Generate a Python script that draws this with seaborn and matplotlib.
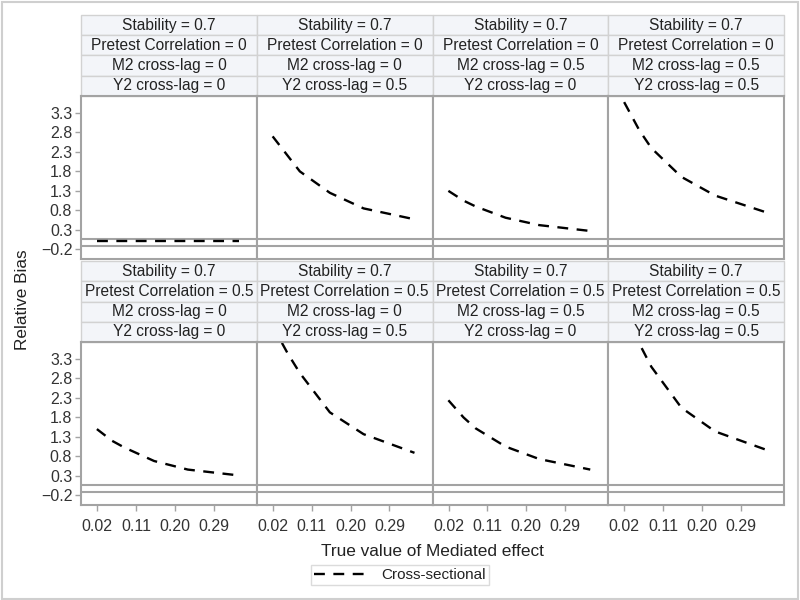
import numpy as np
import pandas as pd
import matplotlib
matplotlib.use("Agg")
import matplotlib.pyplot as plt
import seaborn as sns
from matplotlib.patches import Rectangle

# values
x_effect = [0.0196, 0.0546, 0.0826, 0.1521, 0.2301, 0.3481]
stability = 0.7
pretest_corr = [0, 0.5]
m2_lag = [0, 0, 0.5, 0.5]
y2_lag = [0, 0.5, 0, 0.5]

# pretest correlation = 0 (top row), one list per column
bias_r0 = [
    [0.0, 0.0, 0.0, 0.0, 0.0, 0.0],
    [2.70, 2.20, 1.80, 1.25, 0.85, 0.57],
    [1.30, 1.05, 0.90, 0.61, 0.42, 0.27],
    [3.58, 2.86, 2.40, 1.66, 1.18, 0.75],
]
# pretest correlation = 0.5 (bottom row)
bias_r5 = [
    [1.50, 1.20, 1.03, 0.68, 0.46, 0.31],
    [4.15, 3.44, 2.94, 1.93, 1.37, 0.89],
    [2.24, 1.80, 1.52, 1.05, 0.73, 0.46],
    [5.00, 3.70, 3.10, 2.05, 1.44, 0.97],
]
ref_lines = [0.07, -0.115]
y_ticks = [3.3, 2.8, 2.3, 1.8, 1.3, 0.8, 0.3, -0.2]
x_ticks = [0.02, 0.11, 0.20, 0.29]
x_ticklabels = ["0.02", "0.11", "0.20", "0.29"]

# long format table
rows = []
for r, bias_row in zip(pretest_corr, [bias_r0, bias_r5]):
    for c in range(4):
        for xv, bv in zip(x_effect, bias_row[c]):
            rows.append({"pretest": r, "m2": m2_lag[c], "y2": y2_lag[c],
                         "effect": xv, "bias": bv})
df = pd.DataFrame(rows)

sns.set_style("white")
plt.rcParams['font.family'] = ['Liberation Sans', 'DejaVu Sans']

fig = plt.figure(figsize=(8, 6), dpi=100)
fig.patches.append(Rectangle((0.002, 0.002), 0.996, 0.995, transform=fig.transFigure,
                             fill=False, edgecolor='#cfcfcf', linewidth=1.5))

W, H = 800.0, 600.0
left_px = 81
col_w = 175.75
row_top_px = [96, 342]
ax_h_px = 163
strip_h = 20.25 / ax_h_px
gray = '#a3a3a3'

legend_line = None
for i, r in enumerate(pretest_corr):
    for c in range(4):
        x0 = (left_px + c * col_w) / W
        y0 = 1 - (row_top_px[i] + ax_h_px) / H
        ax = fig.add_axes([x0, y0, col_w / W, ax_h_px / H])
        sub = df[(df.pretest == r) & (df.m2 == m2_lag[c]) & (df.y2 == y2_lag[c])]
        sns.lineplot(data=sub, x='effect', y='bias', color='black', linewidth=1.7,
                     linestyle=(0, (4.6, 3.6)), errorbar=None, ax=ax,
                     label='Cross-sectional', legend=False)
        if legend_line is None:
            legend_line = ax.lines[0]
        for ref in ref_lines:
            ax.axhline(ref, color=gray, linewidth=1.5, zorder=1)

        ax.set_xlim(-0.0172, 0.3898)
        ax.set_ylim(-0.45, 3.737)
        ax.set_xlabel("")
        ax.set_ylabel("")
        for sp in ax.spines.values():
            sp.set_color(gray)
            sp.set_linewidth(1.5)

        ax.set_yticks(y_ticks)
        ax.set_xticks(x_ticks)
        ax.set_xticklabels(x_ticklabels)
        ax.tick_params(axis='y', left=(c == 0), labelleft=(c == 0), length=4.3, width=1,
                       color=gray, pad=2, labelsize=11.5, labelcolor='#333333')
        ax.tick_params(axis='x', bottom=(i == 1), labelbottom=(i == 1), length=4.3, width=1,
                       color=gray, pad=6, labelsize=11.5, labelcolor='#333333')

        # stacked strip headers above each panel
        labels = [f"Stability = {stability:g}",
                  f"Pretest Correlation = {r:g}",
                  f"M2 cross-lag = {m2_lag[c]:g}",
                  f"Y2 cross-lag = {y2_lag[c]:g}"]
        for k, lab in enumerate(labels):
            yb = 1 + (3 - k) * strip_h
            ax.add_patch(Rectangle((0, yb), 1, strip_h, transform=ax.transAxes,
                                   facecolor='#f3f5f9', edgecolor='#d2d2d2',
                                   linewidth=1, clip_on=False, zorder=0))
            ax.text(0.5, yb + strip_h / 2, lab, transform=ax.transAxes,
                    ha='center', va='center', fontsize=11.2, color='#222222')

fig.text(0.028, 0.5, "Relative Bias", rotation=90, ha='center', va='center',
         fontsize=12.4, color='#222222')
fig.text(0.541, 1 - 551 / H, "True value of Mediated effect", ha='center', va='center',
         fontsize=12.4, color='#222222')

leg = fig.legend([legend_line], ['Cross-sectional'], loc='center',
                 bbox_to_anchor=(0.5, 1 - 575 / H), frameon=True, fancybox=False,
                 handlelength=3.8, fontsize=11, borderpad=0.2, handletextpad=0.6)
leg.get_frame().set_edgecolor('#d2d2d2')
leg.get_frame().set_linewidth(1)
for t in leg.get_texts():
    t.set_color('#222222')

fig.savefig("out.png", dpi=100)
